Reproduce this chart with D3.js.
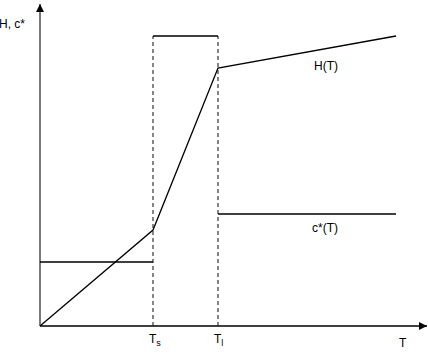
<!DOCTYPE html>
<html>
<head>
<meta charset="utf-8">
<script src="https://cdn.jsdelivr.net/npm/d3@7"></script>
<style>
  body { margin: 0; background: #fff; }
  text { font-family: "Liberation Sans", Arial, sans-serif; font-size: 12px; fill: #000; }
</style>
</head>
<body>
<div id="chart"></div>
<script>
// temperatures (arbitrary units)
var Ts = 113, Tl = 178, Tend = 356;
// enthalpy curve H(T)
var hT = [0, Ts, Tl, Tend];
var hV = [0, 96, 258, 290];
// solubility c*(T), solid part and liquid part
var cSolidT = [0, Ts], cSolidV = [64, 64];
var cLiqT = [Tl, Tend], cLiqV = [112, 112];
// latent-heat box top
var boxTop = 290;
var tickLabels = [{t: Ts, main: "T", sub: "s"}, {t: Tl, main: "T", sub: "l"}];

var width = 428, height = 356;

var svg = d3.select("#chart")
    .append("svg")
    .attr("width", width)
    .attr("height", height);

var x = d3.scaleLinear().domain([0, 388]).range([40, 428]);
var y = d3.scaleLinear().domain([0, 323]).range([326, 3]);

var line = d3.line()
    .x(function (d) { return x(d[0]); })
    .y(function (d) { return y(d[1]); });

// arrow marker
svg.append("defs").append("marker")
    .attr("id", "arrow")
    .attr("viewBox", "0 0 10 10")
    .attr("refX", 10).attr("refY", 5)
    .attr("markerWidth", 10).attr("markerHeight", 8)
    .attr("markerUnits", "userSpaceOnUse")
    .attr("orient", "auto")
    .append("path")
    .attr("d", "M0,0L10,5L0,10z")
    .attr("fill", "#000");

// axes
svg.append("line")
    .attr("x1", x(0)).attr("y1", y(0))
    .attr("x2", x(388) - 1).attr("y2", y(0))
    .attr("stroke", "#000").attr("stroke-width", 1.3)
    .attr("marker-end", "url(#arrow)");
svg.append("line")
    .attr("x1", x(0)).attr("y1", y(0))
    .attr("x2", x(0)).attr("y2", y(323) + 1)
    .attr("stroke", "#333").attr("stroke-width", 1.3)
    .attr("marker-end", "url(#arrow)");

// dashed verticals at Ts and Tl
[Ts, Tl].forEach(function (t) {
    svg.append("line")
        .attr("x1", x(t)).attr("y1", y(0))
        .attr("x2", x(t)).attr("y2", y(boxTop))
        .attr("stroke", "#222").attr("stroke-width", 1.1)
        .attr("stroke-dasharray", "4,3");
});
// box top
svg.append("path")
    .attr("d", line([[Ts, boxTop], [Tl, boxTop]]))
    .attr("stroke", "#000").attr("stroke-width", 1.3).attr("fill", "none");

// H(T)
svg.append("path")
    .attr("d", line(d3.zip(hT, hV)))
    .attr("stroke", "#000").attr("stroke-width", 1.3).attr("fill", "none");

// c*(T)
svg.append("path")
    .attr("d", line(d3.zip(cSolidT, cSolidV)))
    .attr("stroke", "#000").attr("stroke-width", 1.3).attr("fill", "none");
svg.append("path")
    .attr("d", line(d3.zip(cLiqT, cLiqV)))
    .attr("stroke", "#000").attr("stroke-width", 1.3).attr("fill", "none");

// labels
svg.append("text").attr("x", -1).attr("y", 28).text("H, c*");
svg.append("text").attr("x", 399).attr("y", 347).text("T");
svg.append("text").attr("x", 314).attr("y", 70).text("H(T)");
svg.append("text").attr("x", 312).attr("y", 232).text("c*(T)");

tickLabels.forEach(function (d) {
    var t = svg.append("text")
        .attr("x", x(d.t) - 4).attr("y", 343);
    t.append("tspan").text(d.main);
    t.append("tspan").attr("dy", 3).style("font-size", "9px").text(d.sub);
});
</script>
</body>
</html>
